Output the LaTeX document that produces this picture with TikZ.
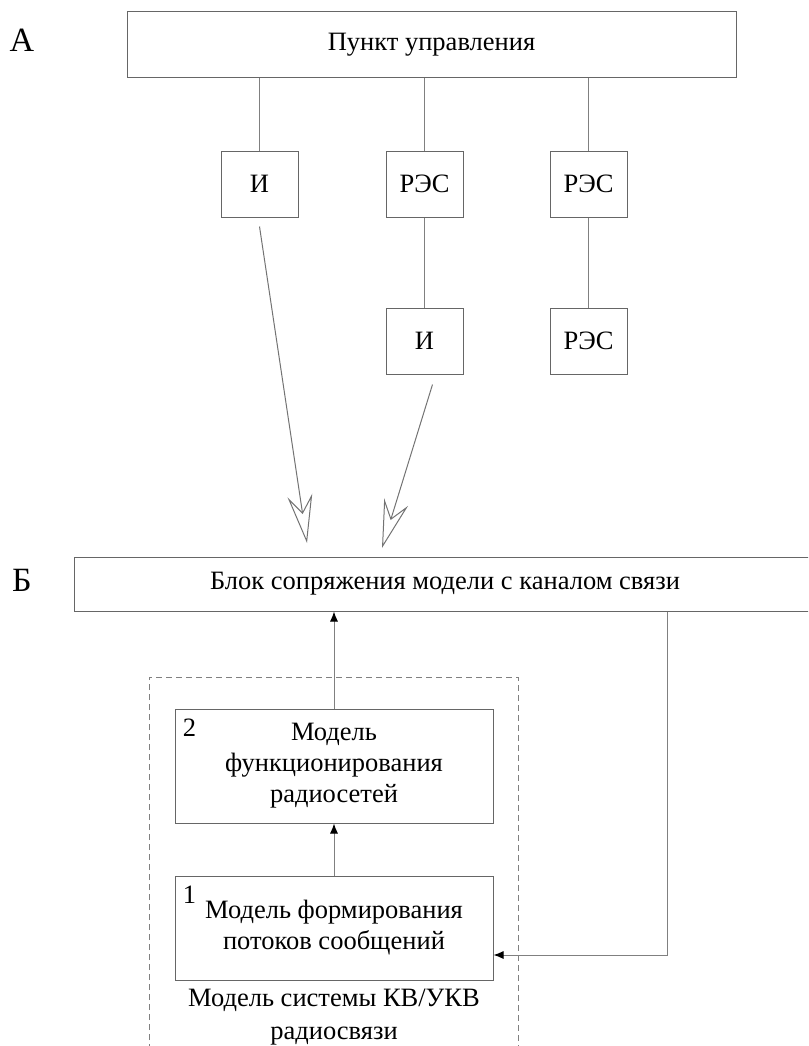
\documentclass[tikz,border=0pt]{standalone}
\usepackage{fontspec}
\setmainfont{Liberation Serif}
\usetikzlibrary{arrows.meta}
\tikzset{
  blk/.style={draw=black!60, line width=1pt, inner sep=0pt, align=center,
    font=\fontsize{26.5}{31}\selectfont},
  conn/.style={draw=black!50, line width=1pt},
  arr/.style={conn, -{Latex[length=10pt,width=8pt,color=black]}},
  bigarr/.style={draw=black!55, line width=1pt,
    -{Stealth[open,length=48pt,width=25pt,inset=17pt]}},
  letter/.style={font=\fontsize{34}{40}\selectfont},
  num/.style={font=\fontsize{26.5}{31}\selectfont, inner sep=0pt},
}
\begin{document}
\begin{tikzpicture}[x=1pt,y=-1pt]
    \useasboundingbox (0,0) rectangle (808,1046);
    \clip (0,0) rectangle (808,1046);
    %% Part A
    \node[letter] (la) at (22,40) {А};
    \node[blk, minimum width=609pt, minimum height=66pt] (pu) at (431.5,45) {Пункт управления};
    \node[blk, minimum width=77pt, minimum height=66pt] (i1) at (259.5,184) {И};
    \node[blk, minimum width=77pt, minimum height=66pt] (res1) at (424.5,184) {РЭС};
    \node[blk, minimum width=77pt, minimum height=66pt] (res2) at (588.5,184) {РЭС};
    \node[blk, minimum width=77pt, minimum height=66pt] (i2) at (424.5,341) {И};
    \node[blk, minimum width=77pt, minimum height=66pt] (res3) at (588.5,341) {РЭС};
    \draw[conn] (pu.south -| i1) -- (i1.north);
    \draw[conn] (pu.south -| res1) -- (res1.north);
    \draw[conn] (pu.south -| res2) -- (res2.north);
    \draw[conn] (res1.south) -- (i2.north);
    \draw[conn] (res2.south) -- (res3.north);
    %% Channels to part B
    \coordinate (t1) at (307,543);
    \coordinate (t2) at (382,548);
    \draw[bigarr] ([yshift=-9pt]i1.south) -- (t1);
    \draw[bigarr] ([xshift=8pt,yshift=-10pt]i2.south) -- (t2);
    %% Part B
    \node[letter] (lb) at (22,580) {Б};
    \node[blk, minimum width=742pt, minimum height=54pt] (blok) at (445,584)
        {Блок сопряжения модели с каналом связи};
    %% Model of the radio system
    \draw[draw=black!50, line width=1pt, dash pattern=on 6pt off 4pt] (149,1070) -- (149,677) -- (518,677) -- (518,1070);
    \node[blk, minimum width=318pt, minimum height=114pt] (m2) at (334,766)
        {Модель\\функционирования\\радиосетей};
    \node[blk, minimum width=318pt, minimum height=104pt] (m1) at (334,928)
        {Модель формирования\\потоков сообщений};
    \node[num] (n2) at ([xshift=15pt,yshift=-19pt]m2.north west) {2};
    \node[num] (n1) at ([xshift=15pt,yshift=-19pt]m1.north west) {1};
    \node[align=center, font=\fontsize{26.5}{33}\selectfont] (lm) at (334,1017)
        {Модель системы КВ/УКВ\\радиосвязи};
    \draw[arr] (m1.north) -- (m2.south);
    \draw[arr] (m2.north) -- (m2.north |- blok.south);
    %% Feedback
    \coordinate (fb) at (667,955);
    \draw[arr] (blok.south -| fb) -- (fb) -- (m1.east |- fb);
\end{tikzpicture}
\end{document}
